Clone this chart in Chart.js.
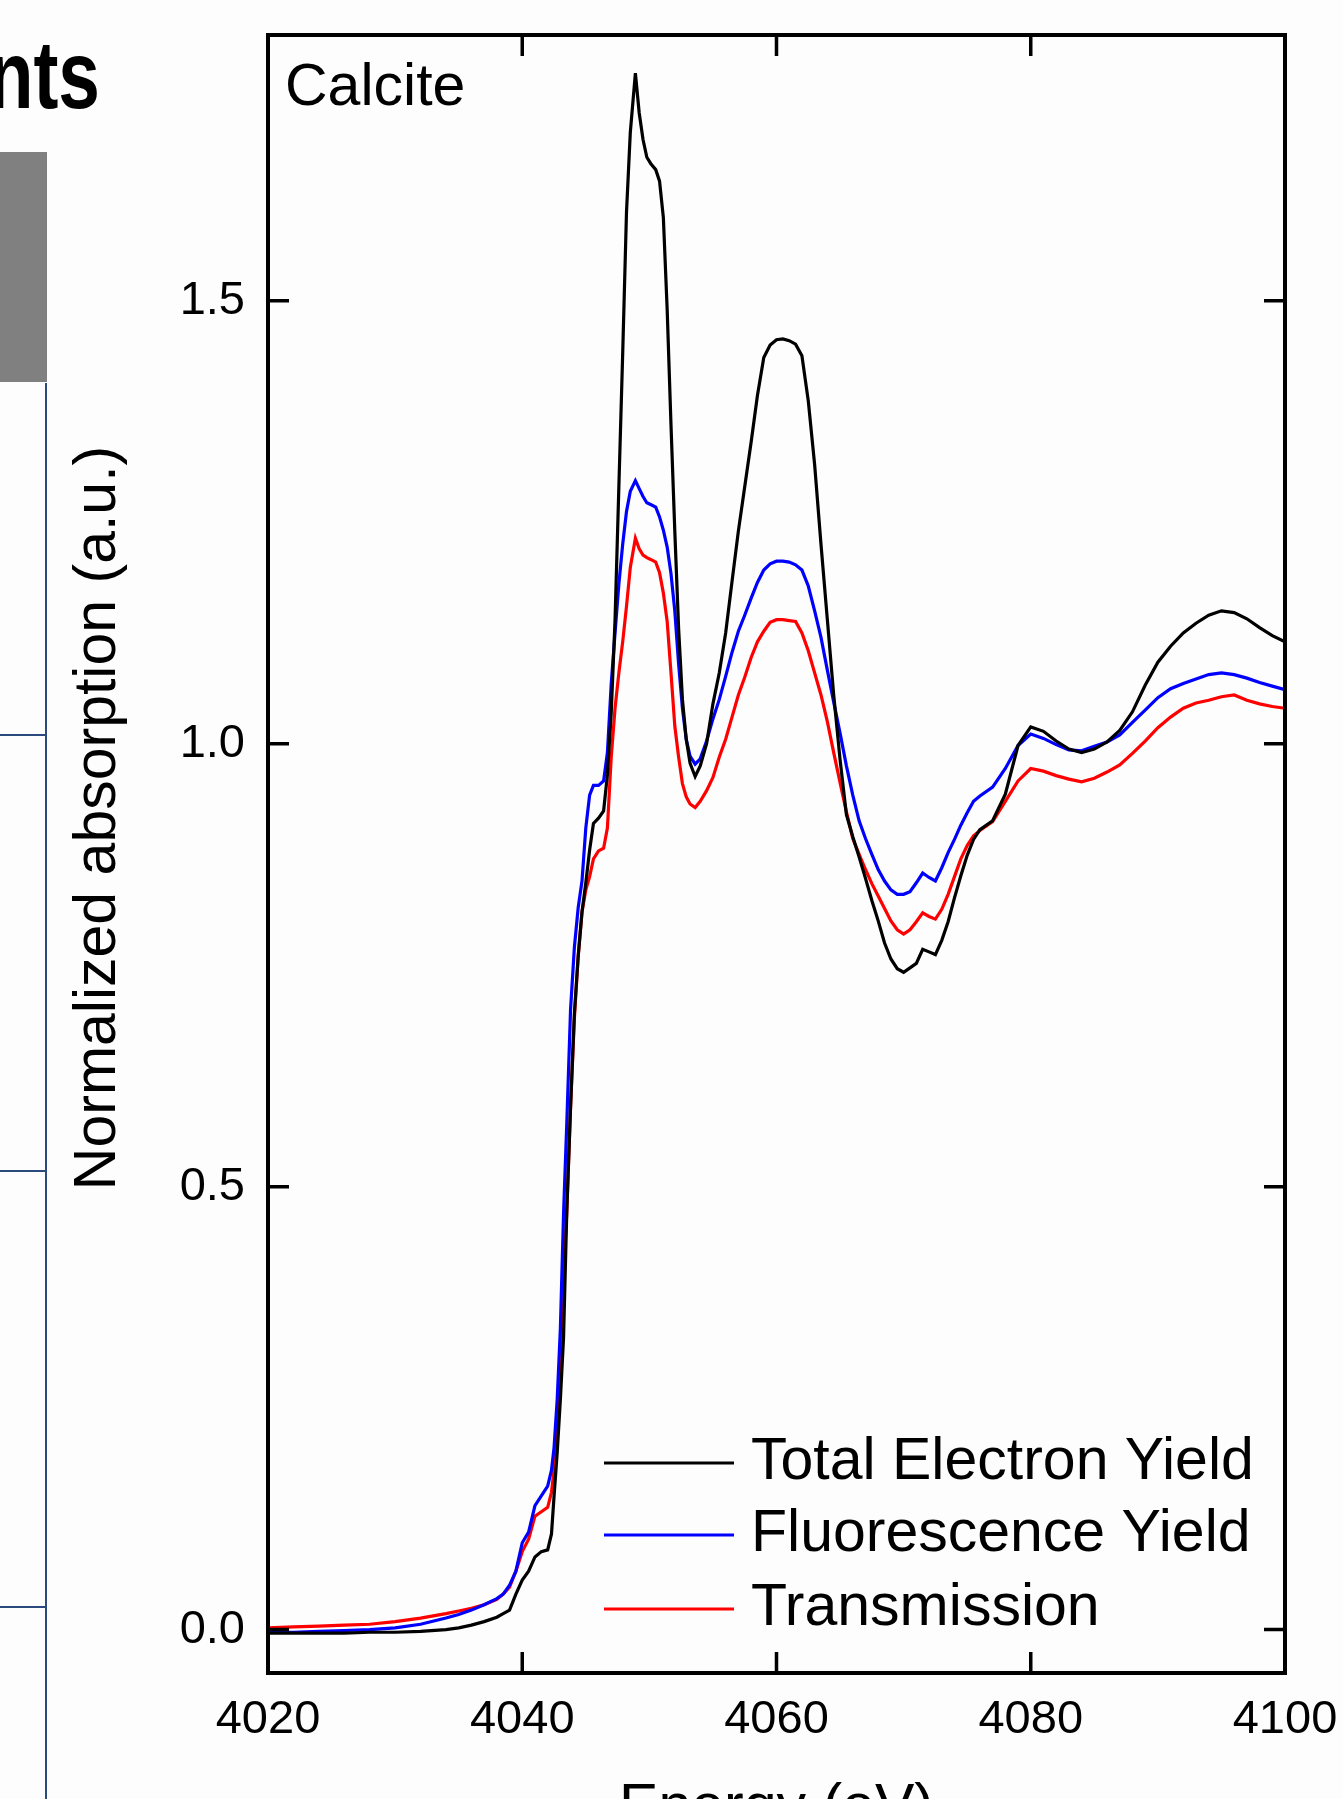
<!DOCTYPE html>
<html lang="en">
<head>
<meta charset="UTF-8">
<title>Calcite XANES</title>
<script src="https://cdn.jsdelivr.net/npm/chart.js"></script>
<style>
  html, body { margin: 0; padding: 0; background: #fdfdfd; overflow: hidden; }
  #wrap { position: relative; width: 1343px; height: 1799px; overflow: hidden; }
</style>
</head>
<body>
<div id="wrap"><canvas id="xanesChart" width="1343" height="1860"></canvas></div>
<script>
// photon energy (eV), denser where the edge is steep
const energy = [
  4020, 4022, 4024, 4026, 4028, 4030, 4032, 4034, 4035, 4036, 4037, 4038, 4038.5, 4039, 4039.5, 4040, 4040.5, 4041, 4041.5, 4042,
  4042.3, 4042.5, 4042.75, 4043, 4043.25, 4043.5, 4043.8, 4044.1, 4044.4, 4044.7, 4045, 4045.3, 4045.6, 4046, 4046.4, 4046.7, 4047, 4047.3, 4047.6, 4047.9,
  4048.2, 4048.5, 4048.9, 4049.2, 4049.5, 4049.8, 4050.1, 4050.5, 4050.8, 4051.1, 4051.4, 4051.7, 4052, 4052.3, 4052.6, 4052.9, 4053.2, 4053.6, 4054, 4054.5,
  4055, 4055.5, 4056, 4056.5, 4057, 4057.5, 4058, 4058.5, 4059, 4059.5, 4060, 4060.5, 4061, 4061.5, 4062, 4062.5, 4063, 4063.5, 4064, 4064.5,
  4065, 4065.5, 4066, 4066.5, 4067, 4067.5, 4068, 4068.5, 4069, 4069.5, 4070, 4070.5, 4071, 4071.5, 4072, 4072.5, 4073, 4073.5, 4074, 4074.5,
  4075, 4075.5, 4076, 4077, 4078, 4079, 4080, 4081, 4082, 4083, 4084, 4085, 4086, 4087, 4088, 4089, 4090, 4091, 4092, 4093, 4094, 4095, 4096, 4097, 4098, 4099, 4100
];

const totalElectronYield = [
  -0.004, -0.004, -0.004, -0.004, -0.003, -0.003, -0.002, 0.000, 0.002, 0.005, 0.009, 0.014, 0.018, 0.022, 0.040, 0.056, 0.066, 0.082, 0.088, 0.090,
  0.108, 0.150, 0.200, 0.260, 0.330, 0.470, 0.590, 0.695, 0.760, 0.810, 0.843, 0.880, 0.910, 0.916, 0.924, 0.965, 1.035, 1.140, 1.290, 1.440,
  1.600, 1.690, 1.757, 1.712, 1.682, 1.662, 1.655, 1.648, 1.635, 1.594, 1.490, 1.360, 1.240, 1.130, 1.050, 1.005, 0.978, 0.963, 0.975, 1.000,
  1.045, 1.080, 1.125, 1.183, 1.240, 1.290, 1.340, 1.393, 1.436, 1.450, 1.456, 1.457, 1.455, 1.451, 1.438, 1.387, 1.315, 1.225, 1.140, 1.055,
  0.982, 0.920, 0.895, 0.872, 0.848, 0.823, 0.800, 0.775, 0.757, 0.746, 0.742, 0.747, 0.752, 0.768, 0.765, 0.762, 0.778, 0.799, 0.826, 0.851,
  0.874, 0.892, 0.903, 0.913, 0.943, 0.998, 1.019, 1.014, 1.003, 0.994, 0.990, 0.994, 1.002, 1.015, 1.036, 1.066, 1.092, 1.110, 1.125, 1.136, 1.145, 1.150, 1.148, 1.141, 1.131, 1.122, 1.115
];

const fluorescenceYield = [
  -0.003, -0.003, -0.002, -0.001, 0.000, 0.002, 0.006, 0.013, 0.017, 0.022, 0.028, 0.035, 0.040, 0.050, 0.066, 0.098, 0.110, 0.140, 0.151, 0.162,
  0.180, 0.205, 0.260, 0.340, 0.470, 0.570, 0.700, 0.770, 0.815, 0.845, 0.905, 0.942, 0.953, 0.953, 0.958, 0.990, 1.068, 1.125, 1.180, 1.225,
  1.262, 1.285, 1.297, 1.288, 1.279, 1.272, 1.270, 1.267, 1.256, 1.241, 1.222, 1.192, 1.150, 1.090, 1.040, 1.005, 0.986, 0.977, 0.983, 1.003,
  1.028, 1.050, 1.076, 1.103, 1.127, 1.145, 1.164, 1.182, 1.196, 1.203, 1.206, 1.206, 1.205, 1.202, 1.196, 1.178, 1.150, 1.120, 1.083, 1.047,
  1.012, 0.975, 0.942, 0.913, 0.893, 0.875, 0.858, 0.845, 0.835, 0.830, 0.830, 0.833, 0.843, 0.854, 0.849, 0.845, 0.860, 0.877, 0.892, 0.908,
  0.922, 0.935, 0.941, 0.951, 0.972, 0.998, 1.011, 1.006, 0.999, 0.993, 0.992, 0.997, 1.002, 1.010, 1.024, 1.038, 1.052, 1.062, 1.068, 1.073, 1.078, 1.080, 1.078, 1.074, 1.069, 1.065, 1.061
];

const transmission = [
  0.002, 0.003, 0.004, 0.005, 0.006, 0.009, 0.013, 0.018, 0.021, 0.024, 0.028, 0.034, 0.040, 0.048, 0.066, 0.088, 0.102, 0.128, 0.133, 0.138,
  0.155, 0.180, 0.220, 0.300, 0.400, 0.470, 0.590, 0.690, 0.760, 0.810, 0.835, 0.850, 0.870, 0.879, 0.882, 0.905, 0.985, 1.040, 1.080, 1.115,
  1.155, 1.199, 1.232, 1.220, 1.213, 1.210, 1.208, 1.205, 1.193, 1.170, 1.138, 1.080, 1.020, 0.985, 0.955, 0.940, 0.932, 0.928, 0.935, 0.947,
  0.962, 0.985, 1.005, 1.030, 1.055, 1.075, 1.097, 1.115, 1.127, 1.137, 1.140, 1.140, 1.139, 1.138, 1.125, 1.105, 1.080, 1.055, 1.025, 0.990,
  0.956, 0.923, 0.893, 0.875, 0.858, 0.842, 0.828, 0.814, 0.800, 0.790, 0.785, 0.790, 0.799, 0.809, 0.805, 0.802, 0.813, 0.830, 0.850, 0.870,
  0.885, 0.896, 0.902, 0.912, 0.935, 0.958, 0.972, 0.969, 0.964, 0.960, 0.957, 0.961, 0.968, 0.976, 0.989, 1.003, 1.018, 1.030, 1.040, 1.046, 1.049, 1.053, 1.055, 1.049, 1.045, 1.042, 1.040
];

const seriesLabels = ['Total Electron Yield', 'Fluorescence Yield', 'Transmission'];
const seriesColors = ['#000000', '#0000ff', '#ff0000'];
const xTicks = [4020, 4040, 4060, 4080, 4100];
const yTicks = [0, 0.5, 1.0, 1.5];
const sampleName = 'Calcite';
const xTitle = 'Energy (eV)';
const yTitle = 'Normalized absorption (a.u.)';

const FONT = '"Liberation Sans", Arial, sans-serif';

function toPoints(values) {
    return values.map((v, i) => ({x: energy[i], y: v}));
}

// frame with inward ticks, sample name, rotated y title, legend and the slide leftovers on the left
const decorations = {
    id: 'decorations',
    beforeDraw(chart) {
        const ctx = chart.ctx;
        ctx.save();
        ctx.fillStyle = '#fdfdfd';
        ctx.fillRect(0, 0, chart.width, chart.height);

        ctx.fillStyle = '#808080';
        ctx.fillRect(0, 152, 47, 230);
        ctx.strokeStyle = '#2b4a7e';
        ctx.lineWidth = 2;
        ctx.beginPath();
        ctx.moveTo(46, 383);
        ctx.lineTo(46, chart.height);
        [735, 1171, 1607].forEach(yy => { ctx.moveTo(0, yy); ctx.lineTo(46, yy); });
        ctx.stroke();

        ctx.fillStyle = '#000';
        ctx.font = 'bold 96px ' + FONT;
        ctx.textAlign = 'right';
        ctx.textBaseline = 'alphabetic';
        ctx.translate(100, 108);
        ctx.scale(0.78, 1);
        ctx.fillText('nts', 0, 0);
        ctx.restore();
    },
    afterDatasetsDraw(chart) {
        const {ctx, chartArea: a, scales: {x, y}} = chart;
        ctx.save();
        ctx.strokeStyle = '#000';
        ctx.lineWidth = 4;
        ctx.strokeRect(a.left, a.top, a.right - a.left, a.bottom - a.top);

        ctx.lineWidth = 3.5;
        ctx.beginPath();
        xTicks.slice(1, -1).forEach(v => {
            const px = x.getPixelForValue(v);
            ctx.moveTo(px, a.bottom); ctx.lineTo(px, a.bottom - 21);
            ctx.moveTo(px, a.top); ctx.lineTo(px, a.top + 21);
        });
        yTicks.forEach(v => {
            const py = y.getPixelForValue(v);
            ctx.moveTo(a.left, py); ctx.lineTo(a.left + 21, py);
            ctx.moveTo(a.right, py); ctx.lineTo(a.right - 21, py);
        });
        ctx.stroke();

        ctx.fillStyle = '#000';
        ctx.font = '59px ' + FONT;
        ctx.textAlign = 'left';
        ctx.textBaseline = 'alphabetic';
        ctx.fillText(sampleName, 285, 105);

        // legend
        const rows = [1463, 1535, 1609];
        ctx.font = '59px ' + FONT;
        ctx.textBaseline = 'middle';
        chart.data.datasets.forEach((ds, i) => {
            ctx.strokeStyle = ds.borderColor;
            ctx.lineWidth = 3;
            ctx.beginPath();
            ctx.moveTo(604, rows[i]);
            ctx.lineTo(734, rows[i]);
            ctx.stroke();
            ctx.fillText(ds.label, 751, rows[i]);
        });

        ctx.translate(115, 818);
        ctx.rotate(-Math.PI / 2);
        ctx.font = '59px ' + FONT;
        ctx.textAlign = 'center';
        ctx.textBaseline = 'alphabetic';
        ctx.fillText(yTitle, 0, 0);
        ctx.restore();
    }
};

const ctx = document.getElementById('xanesChart').getContext('2d');
const xanesChart = new Chart(ctx, {
    type: 'line',
    data: {
        datasets: [totalElectronYield, fluorescenceYield, transmission].map((vals, i) => ({
            label: seriesLabels[i],
            data: toPoints(vals),
            borderColor: seriesColors[i],
            borderWidth: 3.2,
            pointRadius: 0,
            tension: 0,
            fill: false
        }))
    },
    options: {
        responsive: false,
        animation: false,
        devicePixelRatio: 1,
        layout: {padding: {top: 35, right: 58, left: 0, bottom: 0}},
        plugins: {
            legend: {display: false},
            tooltip: {enabled: false}
        },
        scales: {
            x: {
                type: 'linear',
                min: 4020,
                max: 4100,
                grid: {display: false, drawTicks: false},
                border: {display: false},
                afterBuildTicks: (scale) => { scale.ticks = xTicks.map(v => ({value: v})); },
                afterFit: (scale) => {
                    scale.height = 187;
                    scale.paddingLeft = 0;
                    scale.paddingRight = 0;
                },
                ticks: {
                    padding: 19,
                    color: '#000',
                    font: {family: FONT, size: 47},
                    maxRotation: 0,
                    callback: (v) => String(v)
                },
                title: {
                    display: true,
                    text: xTitle,
                    color: '#000',
                    font: {family: FONT, size: 59},
                    padding: {top: 0, bottom: 16}
                }
            },
            y: {
                min: -0.049,
                max: 1.80,
                grid: {display: false, drawTicks: false},
                border: {display: false},
                afterBuildTicks: (scale) => { scale.ticks = yTicks.map(v => ({value: v})); },
                afterFit: (scale) => {
                    scale.width = 268;
                    scale.paddingTop = 0;
                    scale.paddingBottom = 0;
                },
                ticks: {
                    padding: 23,
                    color: '#000',
                    font: {family: FONT, size: 47},
                    callback: (v) => Number(v).toFixed(1)
                }
            }
        }
    },
    plugins: [decorations]
});
</script>
</body>
</html>
